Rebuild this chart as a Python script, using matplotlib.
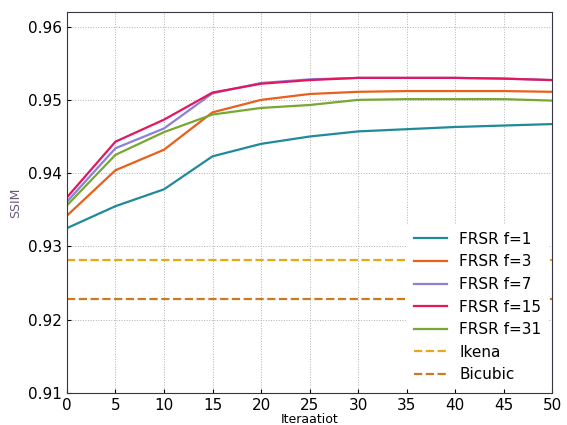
import matplotlib
matplotlib.use('Agg')
import matplotlib.pyplot as plt

# iterations on x axis
iters = [0, 5, 10, 15, 20, 25, 30, 35, 40, 45, 50]

ssim_f1 = [0.9325, 0.9355, 0.9378, 0.9423, 0.9440, 0.9450, 0.9457, 0.9460, 0.9463, 0.9465, 0.9467]
ssim_f3 = [0.9342, 0.9404, 0.9432, 0.9483, 0.9500, 0.9508, 0.9511, 0.9512, 0.9512, 0.9512, 0.9511]
ssim_f7 = [0.9361, 0.9434, 0.9461, 0.9509, 0.9523, 0.9528, 0.9530, 0.9530, 0.9530, 0.9529, 0.9527]
ssim_f15 = [0.9367, 0.9443, 0.9473, 0.9510, 0.9522, 0.9527, 0.9530, 0.9530, 0.9530, 0.9529, 0.9527]
ssim_f31 = [0.9356, 0.9425, 0.9456, 0.9480, 0.9489, 0.9493, 0.9500, 0.9501, 0.9501, 0.9501, 0.9499]

ikena = 0.9282
bicubic = 0.9228

labels = ['FRSR f=1', 'FRSR f=3', 'FRSR f=7', 'FRSR f=15', 'FRSR f=31']
colors = ['#1f8a9a', '#e8601c', '#8c80d8', '#e3175f', '#76a832']

fig = plt.figure(figsize=(5.67, 4.25), dpi=100)
ax = fig.add_axes([0.118, 0.075, 0.856, 0.897])

series = [ssim_f1, ssim_f3, ssim_f7, ssim_f15, ssim_f31]
for s, lab, c in zip(series, labels, colors):
    ax.plot(iters, s, color=c, lw=1.6, label=lab)

ax.plot([iters[0], iters[-1]], [ikena, ikena], '--', color='#e8a817', lw=1.6, label='Ikena')
ax.plot([iters[0], iters[-1]], [bicubic, bicubic], '--', color='#cc7a1e', lw=1.6, label='Bicubic')

ax.set_xlim(0, 50)
ax.set_ylim(0.91, 0.962)
ax.set_xticks(iters)
ax.set_yticks([0.91, 0.92, 0.93, 0.94, 0.95, 0.96])
ax.set_yticklabels(['0.91', '0.92', '0.93', '0.94', '0.95', '0.96'])
ax.tick_params(direction='in', labelsize=11, length=3)
ax.grid(True, linestyle=':', color='#b0b0b0', lw=0.7)

for sp in ax.spines.values():
    sp.set_color('#3a3340')

ax.set_xlabel('Iteraatiot', fontsize=9, labelpad=0)
ax.set_ylabel('SSIM', fontsize=9, color='#6a5a7a')

# white box without edge, hides the dashed lines behind it
leg = ax.legend(loc='lower right', frameon=True, fontsize=11, handlelength=2.2,
                borderaxespad=0.3, labelspacing=0.5, fancybox=False,
                facecolor='white', edgecolor='none', framealpha=1.0)

plt.savefig('out.png', dpi=100)
